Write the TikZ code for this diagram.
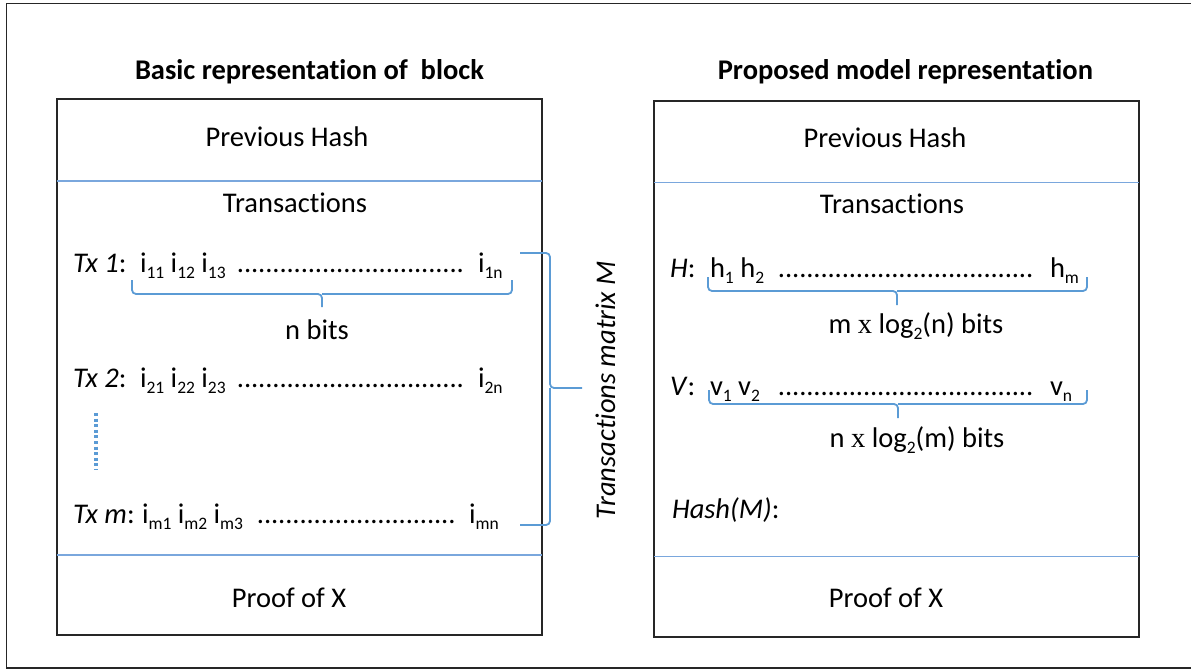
\documentclass[tikz,border=0pt]{standalone}
\usepackage{fontspec}
\setmainfont{Carlito}[Ligatures={NoCommon}]
\newfontfamily\serifx{Liberation Serif}
\definecolor{boxline}{HTML}{262626}
\definecolor{accent}{HTML}{5B9BD5}
\definecolor{divider}{HTML}{7AA7DD}
\newcommand\sub[1]{\raisebox{-0.22em}{\fontsize{17.5}{18}\selectfont #1}}
\newcommand\dotrow[1]{\hbox to #1{\leaders\hbox to 7.1pt{\hss.\hss}\hfill}}
\tikzset{
  txt/.style={inner sep=0pt, outer sep=0pt, anchor=base west, font=\fontsize{28.5}{34}\selectfont},
  ctxt/.style={txt, anchor=base},
  ttl/.style={txt, font=\fontsize{28.5}{34}\selectfont\bfseries},
  boxframe/.style={draw=boxline, line width=2.6pt},
  divline/.style={draw=divider, line width=1.4pt},
  brace/.style={draw=accent, line width=1.8pt, rounded corners=4pt},
  vdots/.style={draw=accent, line width=3.2pt, dash pattern=on 3pt off 2.6pt},
}
\begin{document}
\begin{tikzpicture}[x=1pt,y=-1pt]
\useasboundingbox (0,0) rectangle (1191,671);
% outer frame
\draw[line width=1.3pt, draw=boxline] (1195,3.5) -- (6.5,3.5) -- (6.5,668) -- (1195,668);
% titles
\node[ttl] (t1) at (135,80) {Basic representation of\ \ block};
\node[ttl, anchor=base east] (t2) at (1093,80) {Proposed model representation};
% boxes
\draw[boxframe] (57,99) rectangle (542,635);
\draw[divline] (57,181) -- (542,181);
\draw[divline] (57,555) -- (542,555);
\draw[boxframe] (654,101) rectangle (1139,637);
\draw[divline] (654,182.5) -- (1139,182.5);
\draw[divline] (654,556.5) -- (1139,556.5);
% left box text
\node[ctxt] (lph) at (287,147) {Previous Hash};
\node[ctxt] (ltr) at (295,212) {Transactions};
\node[txt] (l1a) at (73,272) {\textit{Tx 1}:};
\node[txt] (l1b) at (140,272) {i\sub{11} i\sub{12} i\sub{13}};
\node[txt] (l1c) at (237,272) {\dotrow{230pt}};
\node[txt] (l1d) at (478,272) {i\sub{1n}};
\draw[brace] (132,280) |- (322,294) -- (322,307);
\draw[brace] (512,280) |- (322,294);
\node[ctxt] (lnb) at (317,339) {n bits};
\node[txt] (l2a) at (73,387) {\textit{Tx 2}:};
\node[txt] (l2b) at (140,387) {i\sub{21} i\sub{22} i\sub{23}};
\node[txt] (l2c) at (237,387) {\dotrow{230pt}};
\node[txt] (l2d) at (478,387) {i\sub{2n}};
\draw[vdots] (96,413) -- (96,470);
\node[txt] (lma) at (73,523) {\textit{Tx m}:};
\node[txt] (lmb) at (142,523) {i\sub{m1} i\sub{m2} i\sub{m3}};
\node[txt] (lmc) at (257,523) {\dotrow{203pt}};
\node[txt] (lmd) at (469,523) {i\sub{mn}};
\node[ctxt] (lpx) at (289,607) {Proof of X};
% big brace
\draw[brace] (520,253) -| (550,388) -- (582,388);
\draw[brace] (520,525) -| (550,388);
\node[txt, anchor=base, rotate=90] (tmm) at (615,390) {\textit{Transactions matrix M}};
% right box text
\node[ctxt] (rph) at (885,148) {Previous Hash};
\node[ctxt] (rtr) at (892,214) {Transactions};
\node[txt] (rha) at (670,277) {\textit{H}:};
\node[txt] (rhb) at (710,277) {h\sub{1} h\sub{2}};
\node[txt] (rhc) at (778,277) {\dotrow{262pt}};
\node[txt] (rhd) at (1050,277) {h\sub{m}};
\draw[brace] (708,277) |- (897,291) -- (897,305);
\draw[brace] (1087,277) |- (897,291);
\node[ctxt] (rhl) at (916,333) {m {\serifx x} log\sub{2}(n) bits};
\node[txt] (rva) at (670,395) {\textit{V}:};
\node[txt] (rvb) at (710,395) {v\sub{1} v\sub{2}};
\node[txt] (rvc) at (778,395) {\dotrow{262pt}};
\node[txt] (rvd) at (1050,395) {v\sub{n}};
\draw[brace] (709,390) |- (898,404) -- (898,418);
\draw[brace] (1087,390) |- (898,404);
\node[ctxt] (rvl) at (917,447) {n {\serifx x} log\sub{2}(m) bits};
\node[txt] (rhm) at (672,518) {\textit{Hash(M)}:};
\node[ctxt] (rpx) at (886,607) {Proof of X};
\end{tikzpicture}
\end{document}
